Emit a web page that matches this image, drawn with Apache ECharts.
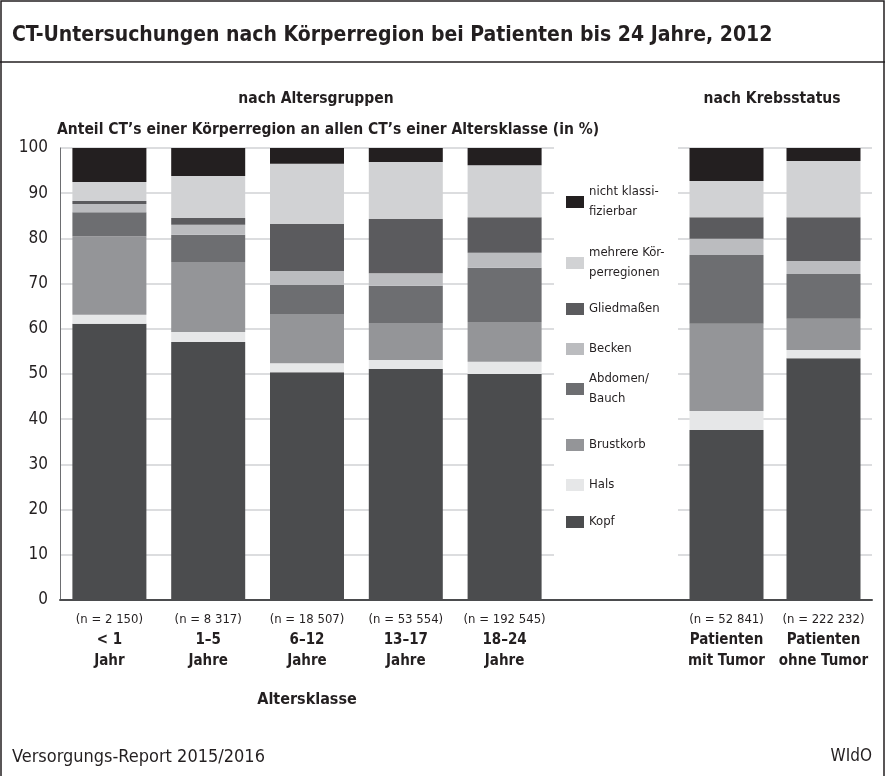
<!DOCTYPE html>
<html>
<head>
<meta charset="utf-8">
<script src="https://cdn.jsdelivr.net/npm/echarts@6/dist/echarts.min.js"></script>
<style>
  html, body { margin: 0; padding: 0; background: #fff; }
  #chart { width: 885px; height: 776px; }
</style>
</head>
<body>
<div id="chart"></div>
<script>
// Körperregionen, von unten nach oben gestapelt
const regions = ["Kopf", "Hals", "Brustkorb", "Abdomen/Bauch", "Becken", "Gliedmaßen", "mehrere Körperregionen", "nicht klassifizierbar"];
const legendLabels = ["Kopf", "Hals", "Brustkorb", "Abdomen/\nBauch", "Becken", "Gliedmaßen", "mehrere Kör-\nperregionen", "nicht klassi-\nfizierbar"];
const colors = ["#4b4c4e", "#e6e7e8", "#949598", "#6d6e71", "#bbbcbf", "#5b5b5e", "#d1d2d4", "#231f20"];

// nach Altersgruppen
const ageGroups = ["< 1", "1–5", "6–12", "13–17", "18–24"];
const ageUnits = ["Jahr", "Jahre", "Jahre", "Jahre", "Jahre"];
const ageN = ["2 150", "8 317", "18 507", "53 554", "192 545"];

const ageKopf = [61.1, 57.1, 50.4, 51.1, 50.0];
const ageHals = [2.0, 2.2, 2.0, 2.0, 2.7];
const ageBrust = [17.4, 15.5, 10.9, 8.2, 8.8];
const ageAbdomen = [5.3, 6.0, 6.4, 8.2, 12.0];
const ageBecken = [1.8, 2.2, 3.1, 2.8, 3.3];
const ageGlied = [0.7, 1.5, 10.4, 12.0, 7.9];
const ageMehrere = [4.2, 9.3, 13.3, 12.6, 11.5];
const ageNicht = [7.5, 6.2, 3.5, 3.1, 3.8];

// nach Krebsstatus
const tumorGroups = ["mit Tumor", "ohne Tumor"];
const tumorN = ["52 841", "222 232"];

const tumorKopf = [37.6, 53.5];
const tumorHals = [4.2, 1.8];
const tumorBrust = [19.3, 6.9];
const tumorAbdomen = [15.2, 9.9];
const tumorBecken = [3.6, 2.9];
const tumorGlied = [4.8, 9.7];
const tumorMehrere = [8.0, 12.4];
const tumorNicht = [7.3, 2.9];

const yTicks = [0, 100, 10]; // min, max, interval

const ageData = [ageKopf, ageHals, ageBrust, ageAbdomen, ageBecken, ageGlied, ageMehrere, ageNicht];
const tumorData = [tumorKopf, tumorHals, tumorBrust, tumorAbdomen, tumorBecken, tumorGlied, tumorMehrere, tumorNicht];

const FONT = "'Liberation Sans Narrow', 'DejaVu Sans Condensed', Roboto, sans-serif";
const TXT = "#231f20";

// Legende: Mitte der ersten Zeile je Eintrag (oben -> unten: nicht klass. ... Kopf)
const legendY = [202, 263, 309, 349, 389, 445, 485, 522];

let chart = echarts.init(document.getElementById("chart"));

let series = [];
regions.forEach(function (r, i) {
  series.push({
    name: r, type: "bar", stack: "age", xAxisIndex: 0, yAxisIndex: 0,
    barWidth: 74, itemStyle: { color: colors[i] }, data: ageData[i]
  });
  series.push({
    name: r, type: "bar", stack: "tumor", xAxisIndex: 1, yAxisIndex: 1,
    barWidth: 74, itemStyle: { color: colors[i] }, data: tumorData[i]
  });
});

let legends = [];
for (let k = 0; k < regions.length; k++) {
  let i = regions.length - 1 - k;
  let twoLine = legendLabels[i].indexOf("\n") >= 0;
  legends.push({
    left: 566,
    top: legendY[k] - (twoLine ? 30 : 10),
    orient: "vertical",
    padding: 0,
    icon: "rect",
    itemWidth: 18,
    itemHeight: 12,
    itemGap: 0,
    selectedMode: false,
    data: [{ name: regions[i], itemStyle: { color: colors[i] } }],
    formatter: function () { return legendLabels[i]; },
    textStyle: {
      fontSize: 13, lineHeight: 20, color: TXT, fontFamily: FONT,
      padding: twoLine ? [20, 0, 0, 0] : 0
    }
  });
}

const xLabel = {
  interval: 0,
  margin: 9,
  color: TXT,
  fontFamily: FONT,
  rich: {
    n: { fontSize: 13, lineHeight: 21, color: TXT, fontFamily: FONT },
    b: { fontSize: 15, lineHeight: 21, fontWeight: "bold", color: TXT, fontFamily: FONT }
  }
};

const yCommon = {
  type: "value",
  min: yTicks[0],
  max: yTicks[1],
  interval: yTicks[2],
  axisTick: { show: false },
  splitLine: { lineStyle: { color: "#d1d2d4", width: 1.5 } }
};

chart.setOption({
  animation: false,
  textStyle: { fontFamily: FONT },
  grid: [
    { left: 60, top: 148, width: 494, height: 452 },
    { left: 678, top: 148, width: 194, height: 452 }
  ],
  legend: legends,
  xAxis: [
    {
      type: "category", gridIndex: 0, data: ageGroups,
      axisTick: { show: false },
      axisLine: { lineStyle: { color: "#4b4c4e", width: 2 } },
      axisLabel: Object.assign({}, xLabel, {
        formatter: function (v, i) {
          return "{n|(n = " + ageN[i] + ")}\n{b|" + v + "}\n{b|" + ageUnits[i] + "}";
        }
      }),
      name: "Altersklasse",
      nameLocation: "middle",
      nameGap: 92,
      nameTextStyle: { fontSize: 16, fontWeight: "bold", color: TXT, fontFamily: FONT }
    },
    {
      type: "category", gridIndex: 1, data: tumorGroups,
      axisTick: { show: false },
      axisLine: { lineStyle: { color: "#4b4c4e", width: 2 } },
      axisLabel: Object.assign({}, xLabel, {
        formatter: function (v, i) {
          return "{n|(n = " + tumorN[i] + ")}\n{b|Patienten}\n{b|" + v + "}";
        }
      })
    }
  ],
  yAxis: [
    Object.assign({}, yCommon, {
      gridIndex: 0,
      axisLine: { show: true, lineStyle: { color: "#6d6e71", width: 1 } },
      axisLabel: { fontSize: 17, color: TXT, margin: 12, fontFamily: FONT }
    }),
    Object.assign({}, yCommon, {
      gridIndex: 1,
      axisLine: { show: false },
      axisLabel: { show: false }
    })
  ],
  graphic: [
    { type: "rect", shape: { x: 1, y: 1, width: 883, height: 820 }, style: { fill: "none", stroke: TXT, lineWidth: 1.5 } },
    { type: "line", shape: { x1: 0, y1: 62, x2: 885, y2: 62 }, style: { stroke: TXT, lineWidth: 1.5 } },
    { type: "line", shape: { x1: 554, y1: 600, x2: 678, y2: 600 }, style: { stroke: "#4b4c4e", lineWidth: 2 } },
    { type: "text", x: 12, y: 36, style: { text: "CT-Untersuchungen nach Körperregion bei Patienten bis 24 Jahre, 2012", font: "bold 21px " + FONT, fill: TXT, textAlign: "left", textVerticalAlign: "middle" } },
    { type: "text", x: 316, y: 99, style: { text: "nach Altersgruppen", font: "bold 15.5px " + FONT, fill: TXT, textAlign: "center", textVerticalAlign: "middle" } },
    { type: "text", x: 772, y: 99, style: { text: "nach Krebsstatus", font: "bold 15.5px " + FONT, fill: TXT, textAlign: "center", textVerticalAlign: "middle" } },
    { type: "text", x: 57, y: 130, style: { text: "Anteil CT’s einer Körperregion an allen CT’s einer Altersklasse (in %)", font: "bold 15.5px " + FONT, fill: TXT, textAlign: "left", textVerticalAlign: "middle" } },
    { type: "text", x: 12, y: 757, style: { text: "Versorgungs-Report 2015/2016", font: "18px " + FONT, fill: TXT, textAlign: "left", textVerticalAlign: "middle" } },
    { type: "text", x: 872, y: 757, style: { text: "WIdO", font: "17px " + FONT, fill: TXT, textAlign: "right", textVerticalAlign: "middle" } }
  ],
  series: series
});
</script>
</body>
</html>
